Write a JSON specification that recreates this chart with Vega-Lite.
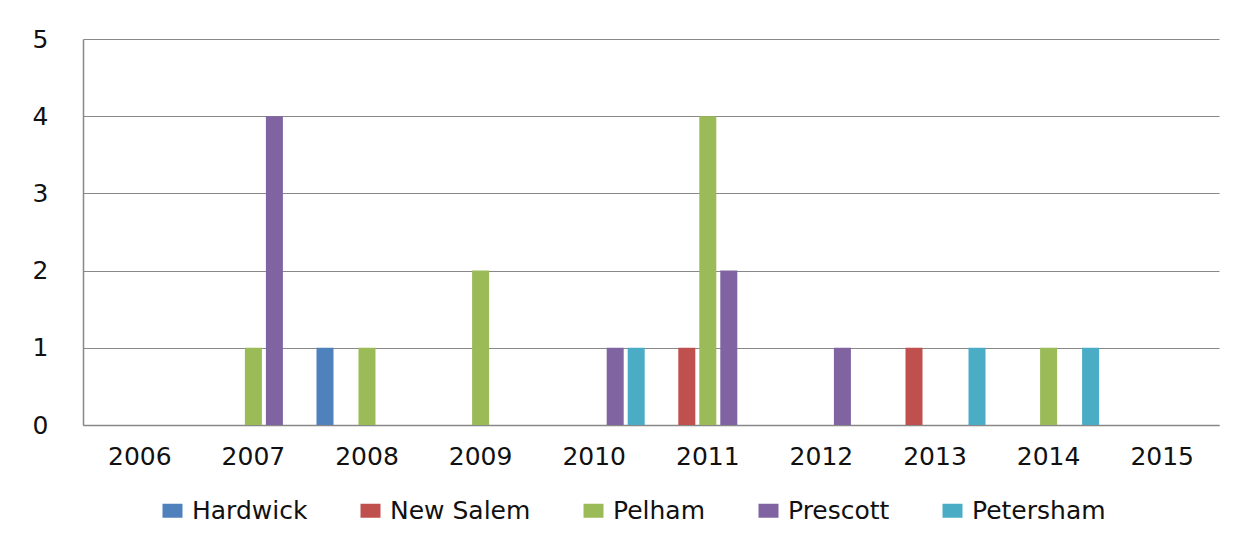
{
  "$schema": "https://vega.github.io/schema/vega-lite/v6.json",
  "width": 1136,
  "height": 386,
  "autosize": "none",
  "padding": {"left": 83, "top": 39, "right": 36, "bottom": 121},
  "background": "white",
  "data": {
    "values": [
      {"year": "2007", "town": "Pelham", "count": 1},
      {"year": "2007", "town": "Prescott", "count": 4},
      {"year": "2008", "town": "Hardwick", "count": 1},
      {"year": "2008", "town": "Pelham", "count": 1},
      {"year": "2009", "town": "Pelham", "count": 2},
      {"year": "2010", "town": "Prescott", "count": 1},
      {"year": "2010", "town": "Petersham", "count": 1},
      {"year": "2011", "town": "New Salem", "count": 1},
      {"year": "2011", "town": "Pelham", "count": 4},
      {"year": "2011", "town": "Prescott", "count": 2},
      {"year": "2012", "town": "Prescott", "count": 1},
      {"year": "2013", "town": "New Salem", "count": 1},
      {"year": "2013", "town": "Petersham", "count": 1},
      {"year": "2014", "town": "Pelham", "count": 1},
      {"year": "2014", "town": "Petersham", "count": 1}
    ]
  },
  "mark": {"type": "bar"},
  "encoding": {
    "x": {
      "field": "year",
      "type": "nominal",
      "scale": {
        "domain": ["2006", "2007", "2008", "2009", "2010", "2011", "2012", "2013", "2014", "2015"],
        "paddingInner": 0,
        "paddingOuter": 0
      },
      "axis": {
        "title": null,
        "labelAngle": 0,
        "ticks": false,
        "domain": true,
        "domainColor": "#888888",
        "domainWidth": 1.5,
        "labelFont": "DejaVu Sans",
        "labelFontSize": 25,
        "labelColor": "#111111",
        "labelPadding": 19
      }
    },
    "xOffset": {
      "field": "town",
      "type": "nominal",
      "scale": {
        "domain": ["Hardwick", "New Salem", "Pelham", "Prescott", "Petersham"],
        "paddingInner": 0.19,
        "paddingOuter": 0.3
      }
    },
    "y": {
      "field": "count",
      "type": "quantitative",
      "scale": {"domain": [0, 5], "nice": false},
      "axis": {
        "title": null,
        "values": [0, 1, 2, 3, 4, 5],
        "grid": true,
        "gridColor": "#888888",
        "gridWidth": 1.2,
        "ticks": false,
        "domain": true,
        "domainColor": "#888888",
        "domainWidth": 1.5,
        "labelFont": "DejaVu Sans",
        "labelFontSize": 25,
        "labelColor": "#111111",
        "labelPadding": 35
      }
    },
    "color": {
      "field": "town",
      "type": "nominal",
      "scale": {
        "domain": ["Hardwick", "New Salem", "Pelham", "Prescott", "Petersham"],
        "range": ["#4F81BD", "#C0504D", "#9BBB59", "#8064A2", "#4BACC6"]
      },
      "legend": {
        "title": null,
        "orient": "none",
        "direction": "horizontal",
        "legendX": 77,
        "legendY": 459,
        "columnPadding": 50,
        "symbolType": "M-1,-0.7H1V0.7H-1Z",
        "symbolSize": 400,
        "symbolStrokeWidth": 0,
        "labelOffset": 7,
        "labelFont": "DejaVu Sans",
        "labelFontSize": 25,
        "labelColor": "#111111",
        "labelLimit": 300,
        "padding": 0
      }
    }
  },
  "config": {"view": {"stroke": null}}
}
